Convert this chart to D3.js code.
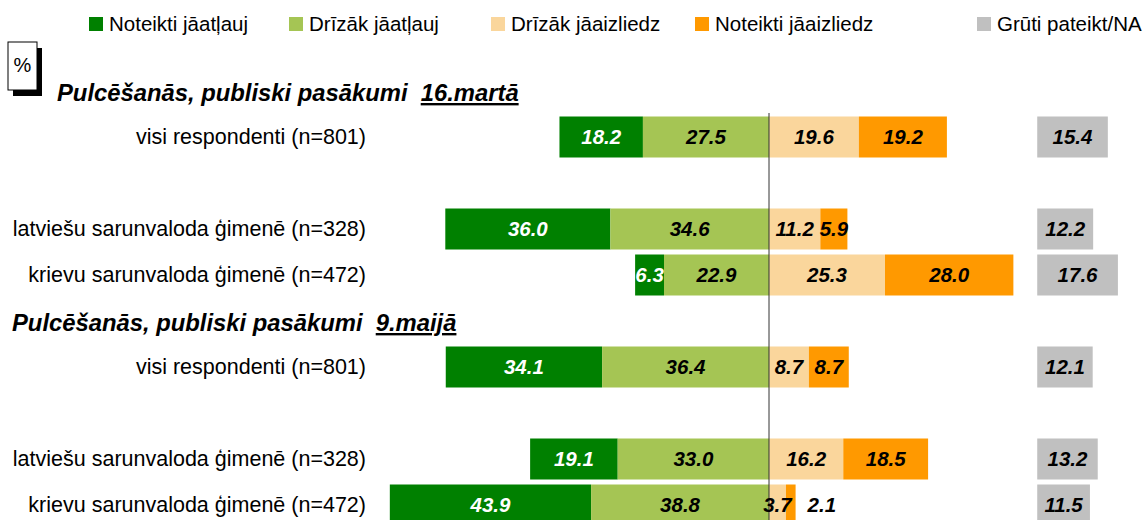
<!DOCTYPE html>
<html>
<head>
<meta charset="utf-8">
<script src="https://cdn.jsdelivr.net/npm/d3@7"></script>
<style>
  body { margin: 0; background: #fff; }
  text { font-family: "Liberation Sans", Arial, sans-serif; }
</style>
</head>
<body>
<div id="chart"></div>
<script>
////////////////////////////////////////////////////////////////////////
// Data (percent)

let categories = ["Noteikti jāatļauj", "Drīzāk jāatļauj", "Drīzāk jāaizliedz", "Noteikti jāaizliedz", "Grūti pateikt/NA"];
let colors = ["#008000", "#A5C554", "#FAD69C", "#FF9900", "#C0C0C0"];

let sectionTitles = ["Pulcēšanās, publiski pasākumi ", "Pulcēšanās, publiski pasākumi "];
let sectionDates = ["16.martā", "9.maijā"];

let rowLabels = [
  "visi respondenti (n=801)",
  "latviešu sarunvaloda ģimenē (n=328)",
  "krievu sarunvaloda ģimenē (n=472)",
  "visi respondenti (n=801)",
  "latviešu sarunvaloda ģimenē (n=328)",
  "krievu sarunvaloda ģimenē (n=472)"
];

let allowSure   = [18.2, 36.0, 6.3, 34.1, 19.1, 43.9];
let allowRather = [27.5, 34.6, 22.9, 36.4, 33.0, 38.8];
let banRather   = [19.6, 11.2, 25.3, 8.7, 16.2, 3.7];
let banSure     = [19.2, 5.9, 28.0, 8.7, 18.5, 2.1];
let hardToSay   = [15.4, 12.2, 17.6, 12.1, 13.2, 11.5];

// vertical slots, top to bottom
let slots = ["t0", "r0", "g0", "r1", "r2", "t1", "r3", "g1", "r4", "r5"];

////////////////////////////////////////////////////////////////////////
// svg + scales

let width = 1148;
let height = 520;

let svg = d3.select("#chart")
  .append("svg")
  .attr("width", width).attr("height", height);

let yScale = d3.scalePoint()
  .domain(slots)
  .range([91, 505]);

let barH = 41;

// percent -> pixels, zero at the dividing line
let xScale = d3.scaleLinear()
  .domain([0, 10])
  .range([769, 769 + 45.85]);

let naStart = 58.5; // where the grey column begins, in percent units

let rows = rowLabels.map(function(label, i) {
  return {
    label: label,
    slot: "r" + i,
    values: [allowSure[i], allowRather[i], banRather[i], banSure[i], hardToSay[i]]
  };
});

// turn each row into segments with start/end in percent units
function segmentsOf(row) {
  let v = row.values;
  return [
    {k: 0, x0: -(v[0] + v[1]), x1: -v[1], v: v[0]},
    {k: 1, x0: -v[1], x1: 0, v: v[1]},
    {k: 2, x0: 0, x1: v[2], v: v[2]},
    {k: 3, x0: v[2], x1: v[2] + v[3], v: v[3]},
    {k: 4, x0: naStart, x1: naStart + v[4], v: v[4]}
  ].map(function(s) { s.row = row; return s; });
}

let segs = [];
rows.forEach(function(r) { segs = segs.concat(segmentsOf(r)); });

////////////////////////////////////////////////////////////////////////
// legend

let legendX = [89, 289, 491, 695, 977];

let legend = svg.append("g").attr("class", "legend");
legend.selectAll("rect")
  .data(categories).enter()
  .append("rect")
  .attr("x", function(d, i) { return legendX[i]; })
  .attr("y", 17)
  .attr("width", 14).attr("height", 14)
  .style("fill", function(d, i) { return colors[i]; });

legend.selectAll("text")
  .data(categories).enter()
  .append("text")
  .attr("x", function(d, i) { return legendX[i] + 20; })
  .attr("y", 31)
  .style("font-size", "20.5px")
  .style("fill", "#000")
  .text(function(d) { return d; });

////////////////////////////////////////////////////////////////////////
// "%" box with drop shadow

svg.append("rect").attr("x", 13).attr("y", 48).attr("width", 29).attr("height", 48).style("fill", "#000");
svg.append("rect").attr("x", 8).attr("y", 42).attr("width", 29).attr("height", 48)
  .style("fill", "#fff").style("stroke", "#000").style("stroke-width", 1);
svg.append("text").attr("x", 22.5).attr("y", 72)
  .style("text-anchor", "middle").style("font-size", "20px").text("%");

////////////////////////////////////////////////////////////////////////
// section titles

let titleX = [57, 12];
sectionTitles.forEach(function(t, i) {
  let tx = svg.append("text")
    .attr("x", titleX[i])
    .attr("y", yScale("t" + i) + 10)
    .style("font-size", "23.8px")
    .style("font-weight", "bold")
    .style("font-style", "italic")
    .attr("xml:space", "preserve");
  tx.append("tspan").text(t + " ");
  tx.append("tspan").style("text-decoration", "underline").text(sectionDates[i]);
});

////////////////////////////////////////////////////////////////////////
// row labels

svg.selectAll(".rowlabel")
  .data(rows).enter()
  .append("text")
  .attr("class", "rowlabel")
  .attr("x", 366)
  .attr("y", function(d) { return yScale(d.slot) + 7; })
  .style("text-anchor", "end")
  .style("font-size", "21.5px")
  .text(function(d) { return d.label; });

////////////////////////////////////////////////////////////////////////
// bars

svg.append("g")
  .selectAll(".bar")
  .data(segs).enter()
  .append("rect")
  .attr("class", "bar")
  .attr("x", function(d) { return xScale(d.x0); })
  .attr("y", function(d) { return yScale(d.row.slot) - barH / 2; })
  .attr("width", function(d) { return xScale(d.x1) - xScale(d.x0); })
  .attr("height", barH)
  .style("fill", function(d) { return colors[d.k]; });

// center line
svg.append("line")
  .attr("x1", xScale(0)).attr("x2", xScale(0))
  .attr("y1", 113).attr("y2", height)
  .style("stroke", "#333").style("stroke-width", 1);

// value labels; very thin end segments get the number outside the bar
svg.append("g")
  .selectAll(".val")
  .data(segs).enter()
  .append("text")
  .attr("class", "val")
  .attr("x", function(d) {
    let w = xScale(d.x1) - xScale(d.x0);
    if (d.k === 3 && w < 12) return xScale(d.x1) + 12;
    return (xScale(d.x0) + xScale(d.x1)) / 2;
  })
  .attr("y", function(d) { return yScale(d.row.slot) + 7; })
  .style("text-anchor", function(d) {
    let w = xScale(d.x1) - xScale(d.x0);
    return (d.k === 3 && w < 12) ? "start" : "middle";
  })
  .style("font-size", "20.5px")
  .style("font-weight", "bold")
  .style("font-style", "italic")
  .style("fill", function(d) { return d.k === 0 ? "#fff" : "#000"; })
  .text(function(d) { return d.v.toFixed(1); });
</script>
</body>
</html>
